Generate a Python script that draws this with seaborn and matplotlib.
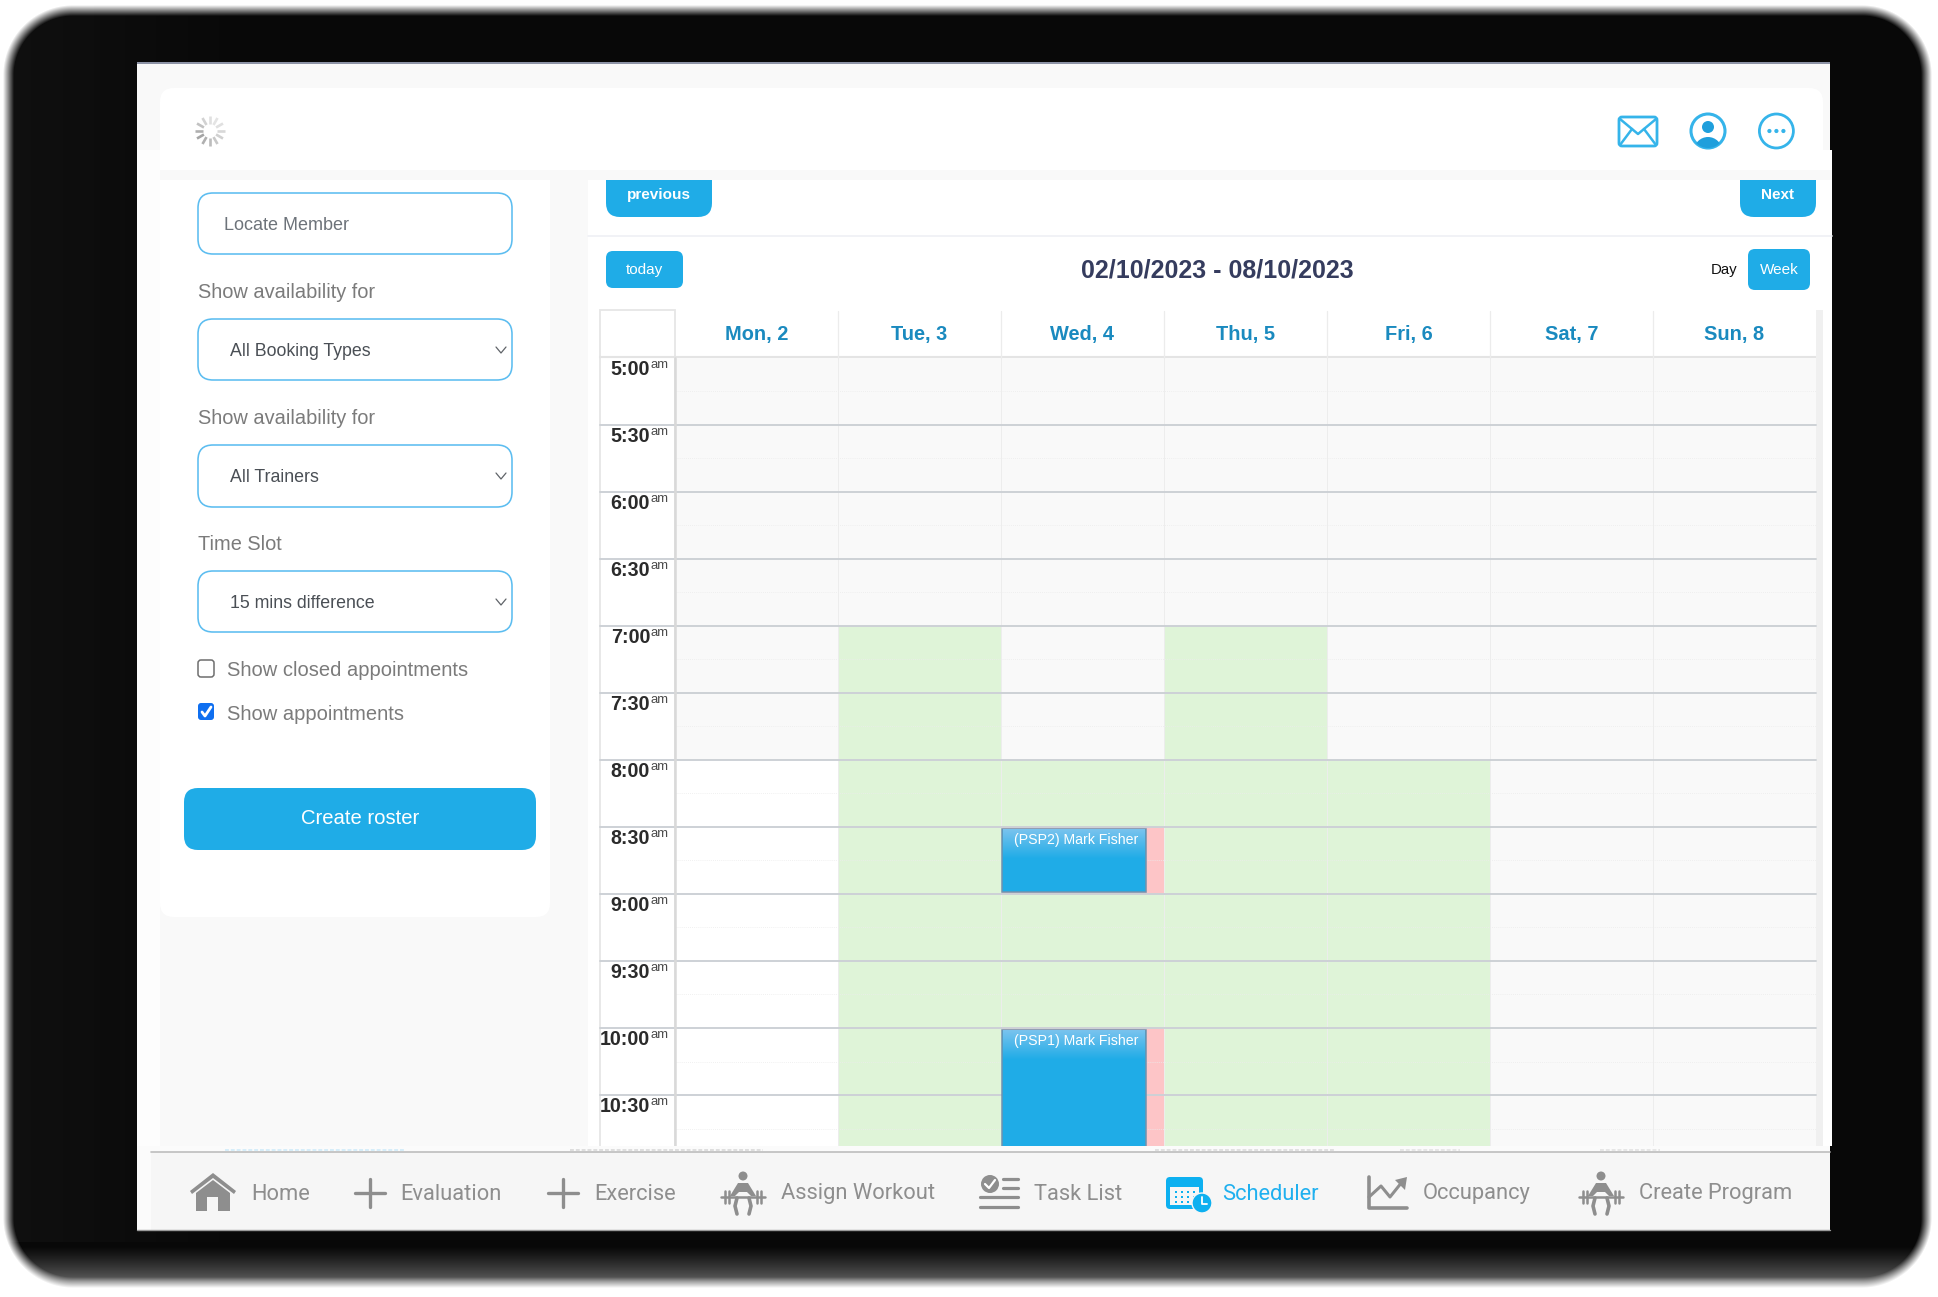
import numpy as np
import pandas as pd
import matplotlib
matplotlib.use("Agg")
import matplotlib.pyplot as plt
from matplotlib.colors import ListedColormap, LinearSegmentedColormap
from matplotlib.patches import FancyBboxPatch, Rectangle, Circle, Polygon
import seaborn as sns

# ── DATA ──────────────────────────────────────────────────────────────────────
DAYS = ["Mon, 2", "Tue, 3", "Wed, 4", "Thu, 5", "Fri, 6", "Sat, 7", "Sun, 8"]
SLOTS = ["5:00", "5:15", "5:30", "5:45", "6:00", "6:15", "6:30", "6:45",
         "7:00", "7:15", "7:30", "7:45", "8:00", "8:15", "8:30", "8:45",
         "9:00", "9:15", "9:30", "9:45", "10:00", "10:15", "10:30", "10:45"]
TIME_LABELS = ["5:00", "5:30", "6:00", "6:30", "7:00", "7:30",
               "8:00", "8:30", "9:00", "9:30", "10:00", "10:30"]

# 0 closed, 1 open, 2 available, 3 booked
MON = [0,0,0,0,0,0,0,0, 0,0,0,0, 1,1,1,1, 1,1,1,1, 1,1,1,1]
TUE = [0,0,0,0,0,0,0,0, 2,2,2,2, 2,2,2,2, 2,2,2,2, 2,2,2,2]
WED = [0,0,0,0,0,0,0,0, 0,0,0,0, 2,2,3,3, 2,2,2,2, 3,3,3,3]
THU = [0,0,0,0,0,0,0,0, 2,2,2,2, 2,2,2,2, 2,2,2,2, 2,2,2,2]
FRI = [0,0,0,0,0,0,0,0, 0,0,0,0, 2,2,2,2, 2,2,2,2, 2,2,2,2]
SAT = [0,0,0,0,0,0,0,0, 0,0,0,0, 0,0,0,0, 0,0,0,0, 0,0,0,0]
SUN = [0,0,0,0,0,0,0,0, 0,0,0,0, 0,0,0,0, 0,0,0,0, 0,0,0,0]

EVENT_LABELS = ["(PSP2) Mark Fisher", "(PSP1) Mark Fisher"]
EVENT_DAY = [2, 2]
EVENT_START = [14, 20]
EVENT_SLOTS = [2, 4]

NAV_LABELS = ["Home", "Evaluation", "Exercise", "Assign Workout",
              "Task List", "Scheduler", "Occupancy", "Create Program"]

# ── CONFIG ────────────────────────────────────────────────────────────────────
W, H = 1938, 1297
BLUE = "#1face7"
BORDER = "#5cbdf0"
PAGE = "#f9f9f9"
HEAD = "#1a8abf"
GREYTXT = "#7b7b7b"
NAVTXT = "#8e8e8e"
LINE = "#cdd1d6"
SANS = "Liberation Sans"
RIGHT = 1830

sns.set_theme(style="white")
plt.rcParams["font.family"] = [SANS, "DejaVu Sans"]


def px(size):
    # figure is at dpi 100, so px -> pt
    return size * 0.72


def box(ax, x0, y0, x1, y1, r=0, fc="white", ec="none", lw=0, z=1):
    p = FancyBboxPatch((x0 + r, y0 + r), x1 - x0 - 2 * r, y1 - y0 - 2 * r,
                       boxstyle=f"round,pad={r},rounding_size={r}" if r else "square,pad=0",
                       fc=fc, ec=ec, lw=lw, zorder=z)
    ax.add_patch(p)
    return p


def label(ax, x, y, s, size, color="black", ha="left", weight="normal", family=SANS, z=5):
    return ax.text(x, y, s, fontsize=px(size), color=color, ha=ha, va="center",
                   fontweight=weight, family=family, zorder=z)


def pixel_axes(fig, z):
    ax = fig.add_axes([0, 0, 1, 1], zorder=z)
    ax.set_xlim(0, W)
    ax.set_ylim(H, 0)
    ax.axis("off")
    ax.patch.set_alpha(0)
    return ax


def lifter(ax, cx):
    c = NAVTXT
    ax.add_patch(Circle((cx, 1176), 4.5, fc=c, ec="none", zorder=5))
    ax.add_patch(Polygon([[cx - 5, 1183], [cx + 5, 1183], [cx + 13, 1196],
                          [cx + 8, 1196], [cx + 4, 1192], [cx - 4, 1192],
                          [cx - 8, 1196], [cx - 13, 1196]], fc=c, ec="none", zorder=5))
    ax.plot([cx - 22, cx + 22], [1197, 1197], color=c, lw=1.8, zorder=5)
    for dx in (-18, -14, 14, 18):
        ax.plot([cx + dx, cx + dx], [1191, 1203], color=c, lw=1.8, zorder=5)
    ax.plot([cx - 6, cx - 8, cx - 6], [1198, 1206, 1214], color=c, lw=2.6, zorder=5)
    ax.plot([cx + 6, cx + 8, cx + 6], [1198, 1206, 1214], color=c, lw=2.6, zorder=5)


# ── BACKGROUND ────────────────────────────────────────────────────────────────
fig = plt.figure(figsize=(W / 100, H / 100), dpi=100, facecolor="white")
bg = pixel_axes(fig, 0)

# blurry device bezel: rounded box distance field
xx, yy = np.meshgrid(np.arange(W) + 0.5, np.arange(H) + 0.5)
bx0, by0, bx1, by1, rad = 3, 5, 1932, 1288, 70
qx = np.abs(xx - (bx0 + bx1) / 2) - ((bx1 - bx0) / 2 - rad)
qy = np.abs(yy - (by0 + by1) / 2) - ((by1 - by0) / 2 - rad)
dist = np.hypot(np.maximum(qx, 0), np.maximum(qy, 0)) + np.minimum(np.maximum(qx, qy), 0) - rad
cover = np.clip(-dist / 11, 0, 1)[..., None]
shade = 8 + 88 * np.clip((yy - 1246) / 36, 0, 1) ** 1.2
shade = shade + 8 * np.clip((250 - xx) / 250, 0, 1) * (yy < 1242)
rgb = np.repeat(shade[..., None], 3, axis=2) / 255
bg.imshow(cover * rgb + (1 - cover), extent=(0, W, H, 0), aspect="auto", zorder=1)
bg.set_xlim(0, W)
bg.set_ylim(H, 0)
bg.add_patch(Rectangle((137, 62), RIGHT - 137, 2.5, fc="#8d93a6", ec="none", zorder=3))

# screen
box(bg, 137, 64, RIGHT, 1230, fc=PAGE, z=4)
box(bg, 137, 150, 160, 1146, fc="#fdfdfd", z=4)
box(bg, 1823, 150, RIGHT + 2, 1146, fc="white", z=4)

# top bar, side panel, calendar panel
box(bg, 160, 88, 1823, 170, r=14, fc="white", z=5)
box(bg, 160, 120, 1823, 170, fc="white", z=5)
box(bg, 160, 180, 550, 917, r=14, fc="white", z=5)
box(bg, 160, 180, 550, 300, fc="white", z=5)
box(bg, 588, 180, RIGHT + 2, 1146, fc="white", z=5)
bg.plot([588, RIGHT + 2], [236, 236], color="#eff0f5", lw=1.2, zorder=6)

# spinner
for ang, sh in zip(range(0, 360, 30),
                   ["#d8d8d8", "#d0d0d0", "#c8c8c8", "#bdbdbd", "#b0b0b0", "#a5a5a5",
                    "#b0b0b0", "#c2c2c2", "#d2d2d2", "#e0e0e0", "#e4e4e4", "#e0e0e0"]):
    a = np.deg2rad(ang)
    bg.plot([210 + 7 * np.cos(a), 210 + 15 * np.cos(a)],
            [131 + 7 * np.sin(a), 131 + 15 * np.sin(a)],
            color=sh, lw=1.9, solid_capstyle="butt", zorder=7)

# top right icons
ICON = "#35b4ea"
box(bg, 1619, 117, 1657, 146, r=3, fc="white", ec=ICON, lw=2.0, z=7)
bg.plot([1620, 1638, 1656], [119, 134, 119], color=ICON, lw=1.8, zorder=8)
bg.plot([1620, 1632], [145, 129], color=ICON, lw=1.8, zorder=8)
bg.plot([1656, 1644], [145, 129], color=ICON, lw=1.8, zorder=8)
ring = Circle((1708, 131), 17, fc="white", ec=ICON, lw=2.2, zorder=7)
bg.add_patch(ring)
bg.add_patch(Circle((1708, 127), 6, fc="#1f9fdc", ec="none", zorder=8))
body = Circle((1708, 151), 14, fc="#1f9fdc", ec="none", zorder=8)
bg.add_patch(body)
body.set_clip_path(ring)
bg.add_patch(Circle((1776.4, 131), 17, fc="white", ec=ICON, lw=2.0, zorder=7))
for dx in (-7, 0, 7):
    bg.add_patch(Circle((1776.4 + dx, 131), 2.1, fc=ICON, ec="none", zorder=8))

# ── SIDE PANEL ────────────────────────────────────────────────────────────────
for y0, y1 in [(193, 254), (319, 380), (445, 507), (571, 632)]:
    box(bg, 198, y0, 512, y1, r=15, fc="white", ec=BORDER, lw=1.15, z=7)
for yc in (350, 476, 602):
    bg.plot([496, 501, 506], [yc - 3, yc + 3, yc - 3], color="#5f6368", lw=0.9, zorder=8)

label(bg, 224, 225, "Locate Member", 18, "#6d737a", z=8)
label(bg, 198, 293, "Show availability for", 20, GREYTXT, z=8)
label(bg, 230, 351, "All Booking Types", 17.8, "#4a4f55", z=8)
label(bg, 198, 419, "Show availability for", 20, GREYTXT, z=8)
label(bg, 230, 477, "All Trainers", 17.8, "#4a4f55", z=8)
label(bg, 198, 545, "Time Slot", 20, GREYTXT, z=8)
label(bg, 230, 603, "15 mins difference", 17.8, "#4a4f55", z=8)

box(bg, 198, 660, 214, 677, r=3, fc="white", ec="#6e6e6e", lw=1.1, z=7)
box(bg, 198, 703, 214, 720, r=3, fc="#0f6ff0", z=7)
bg.plot([202, 205, 211], [712, 716, 707], color="white", lw=2.0, zorder=8)
label(bg, 227, 671, "Show closed appointments", 20.2, GREYTXT, z=8)
label(bg, 227, 714, "Show appointments", 20.2, GREYTXT, z=8)

box(bg, 184, 788, 536, 850, r=14, fc=BLUE, z=7)
label(bg, 360, 819, "Create roster", 20.3, "white", ha="center", z=8)

# ── CALENDAR TOOLBAR ──────────────────────────────────────────────────────────
# buttons run under the top bar, only their lower half shows
box(bg, 606, 150, 712, 217, r=14, fc=BLUE, z=6)
box(bg, 1740, 150, 1816, 217, r=14, fc=BLUE, z=6)
box(bg, 588, 170, RIGHT + 2, 180, fc=PAGE, z=6.2)
box(bg, 588, 120, 1823, 170, fc="white", z=6.2)
label(bg, 659, 195, "previous", 15.3, "white", ha="center", weight="bold", z=8)
label(bg, 1778, 195, "Next", 15.3, "white", ha="center", weight="bold", z=8)

box(bg, 606, 251, 683, 288, r=7, fc=BLUE, z=7)
label(bg, 644, 270, "today", 15.3, "white", ha="center", z=8)
label(bg, 1217, 270, "02/10/2023 - 08/10/2023", 25, "#353c5e", ha="center", weight="bold", z=8)
label(bg, 1724, 270, "Day", 15, "#111111", ha="center", z=8)
box(bg, 1748, 249, 1810, 290, r=7, fc=BLUE, z=7)
label(bg, 1779, 270, "Week", 15.3, "white", ha="center", z=8)

# calendar head and time column
bg.add_patch(Rectangle((600, 310), 75, 848, fc="white", ec="#e6e6e6", lw=1.3, zorder=7))
bg.plot([600, 1816], [357, 357], color="#e4e4e4", lw=1.5, zorder=7)
box(bg, 1816, 310, 1823, 1146, fc="#f0f0f0", z=7)

# ── HEATMAP GRID ──────────────────────────────────────────────────────────────
x0, x1 = 675, 1816
y0, y1 = 358, 358 + 24 * 33.5
hm = fig.add_axes([x0 / W, 1 - y1 / H, (x1 - x0) / W, (y1 - y0) / H], zorder=1)

grid = pd.DataFrame(dict(zip(DAYS, [MON, TUE, WED, THU, FRI, SAT, SUN])), index=SLOTS)
cmap = ListedColormap(["#f9f9f9", "#ffffff", "#dff4d8", "#fdc5c7"])
sns.heatmap(grid, ax=hm, cmap=cmap, vmin=-0.5, vmax=3.5, cbar=False, linewidths=0,
            xticklabels=True, yticklabels=False)

hm.xaxis.tick_top()
hm.tick_params(axis="x", length=0, pad=10)
hm.set_xticklabels(DAYS, rotation=0, fontsize=px(20), fontweight="bold", color=HEAD, family=SANS)
hm.set_yticks(np.arange(len(TIME_LABELS)) * 2 + 0.29)
hm.set_yticklabels(TIME_LABELS, fontsize=px(19.6), fontweight="bold", color="#2b2b2b", family=SANS)
hm.tick_params(axis="y", length=0, pad=px(25))
hm.set_xlabel("")
hm.set_ylabel("")

# grid lines, data units so they follow the heatmap
left = -75 / 163
for r in range(1, 24):
    if r % 2 == 0:
        hm.plot([left, 7], [r, r], color=LINE, lw=1.4, clip_on=False, zorder=4)
    else:
        hm.plot([0, 7], [r, r], color="#ececec", lw=0.6, ls=(0, (1, 1.5)), zorder=2)
for d in range(1, 7):
    hm.plot([d, d], [0, 24], color="#ededed", lw=0.7, zorder=2)
    hm.plot([d, d], [-47 / 33.5, 0], color="#ececec", lw=0.9, clip_on=False, zorder=2)
hm.plot([0, 0], [0, 24], color="#d9d9d9", lw=1.8, zorder=4, clip_on=False)

for i, t in enumerate(TIME_LABELS):
    hm.text(-0.15, i * 2 + 0.2, "am", fontsize=px(13), color="#4a4a4a", family=SANS,
            ha="left", va="center", clip_on=False, zorder=5)

# bookings
event_fade = LinearSegmentedColormap.from_list("ev", ["#79c3ee", BLUE])
for name, day, start, n in zip(EVENT_LABELS, EVENT_DAY, EVENT_START, EVENT_SLOTS):
    top_y = start + 0.06
    hm.add_patch(Rectangle((day + 0.007, top_y), 0.88, n - 0.12, fc=BLUE, ec="#6f93ad", lw=1.1, zorder=5))
    hm.imshow(np.linspace(0, 1, 40).reshape(-1, 1),
              extent=(day + 0.012, day + 0.883, top_y + 0.9, top_y + 0.03),
              cmap=event_fade, aspect="auto", zorder=6)
    hm.text(day + 0.46, start + 0.38, name, fontsize=px(14.1), color="white", family=SANS,
            ha="center", va="center", zorder=7)
hm.set_xlim(0, 7)
hm.set_ylim(24, 0)

# ── FOOTER ────────────────────────────────────────────────────────────────────
top = pixel_axes(fig, 2)
top.add_patch(Rectangle((137, 1146), RIGHT - 137, 84, fc="#fbfbfb", ec="none", zorder=1))
top.add_patch(Rectangle((151, 1152), RIGHT - 151, 78, fc="#f6f6f6", ec="none", zorder=2))
top.plot([151, RIGHT], [1152, 1152], color="#bdbdbd", lw=1.2, zorder=3)
top.plot([137, RIGHT], [1230, 1230], color="#9a9a9a", lw=1.0, zorder=3)
for a, b, c in [(225, 404, "#d5edf9"), (570, 763, "#dedede"), (1155, 1335, "#e0e0e0"),
                (1400, 1460, "#e6e6e6"), (1600, 1660, "#e6e6e6")]:
    top.plot([a, b], [1150, 1150], color=c, lw=1.4, ls=(0, (2, 1)), zorder=3)

NAV_X = [251, 400, 594, 781, 1034, 1222, 1423, 1639]
for x, s in zip(NAV_X, NAV_LABELS):
    top.text(x, 1194, s, fontsize=px(21.9), color="#1fb0ef" if s == "Scheduler" else NAVTXT,
             family="Roboto", va="center", ha="left", zorder=5)

# home
top.add_patch(Polygon([[190, 1191], [213, 1173], [236, 1191], [234, 1194], [213, 1178], [192, 1194]],
                      fc=NAVTXT, ec="none", zorder=5))
top.add_patch(Polygon([[196, 1193], [213, 1180], [230, 1193], [230, 1211], [196, 1211]],
                      fc=NAVTXT, ec="none", zorder=5))
top.add_patch(Rectangle((207, 1197), 11, 14, fc="#f6f6f6", ec="none", zorder=6))
# plus icons
for cx in (369.7, 562.6):
    top.plot([cx - 15, cx + 15], [1193, 1193], color=NAVTXT, lw=2.4, zorder=5)
    top.plot([cx, cx], [1179, 1207], color=NAVTXT, lw=2.4, zorder=5)
lifter(top, 743)
lifter(top, 1601)
# task list
top.add_patch(Circle((990, 1184), 9, fc=NAVTXT, ec="none", zorder=5))
top.plot([985, 989, 995], [1184, 1188, 1180], color="white", lw=1.6, zorder=6)
for y, a in [(1179, 1003), (1188, 1003), (1197, 980), (1207, 980)]:
    top.plot([a, 1018], [y, y], color=NAVTXT, lw=2.3, zorder=5)
# scheduler
box(top, 1166, 1177, 1203, 1209, r=4, fc="#0db0f0", z=5)
top.add_patch(Rectangle((1170, 1187), 29, 18, fc="#f6f6f6", ec="none", zorder=6))
for gx in (1175, 1181, 1187, 1193):
    for gy in (1191, 1196, 1201):
        top.add_patch(Rectangle((gx, gy), 2.4, 2.4, fc="#0db0f0", ec="none", zorder=7))
top.add_patch(Circle((1202, 1203), 10, fc="#0db0f0", ec="#f6f6f6", lw=1, zorder=8))
top.plot([1202, 1202, 1207], [1197, 1204, 1204], color="white", lw=1.3, zorder=9)
# occupancy
top.plot([1369, 1369, 1407], [1177, 1208, 1208], color=NAVTXT, lw=2.6, zorder=5)
top.plot([1369, 1381, 1390, 1402], [1197, 1186, 1197, 1182], color=NAVTXT, lw=2.2, zorder=5)
top.add_patch(Polygon([[1395, 1180], [1407, 1177], [1405, 1190]], fc=NAVTXT, ec="none", zorder=5))

fig.savefig("out.png", dpi=100, facecolor="white")
